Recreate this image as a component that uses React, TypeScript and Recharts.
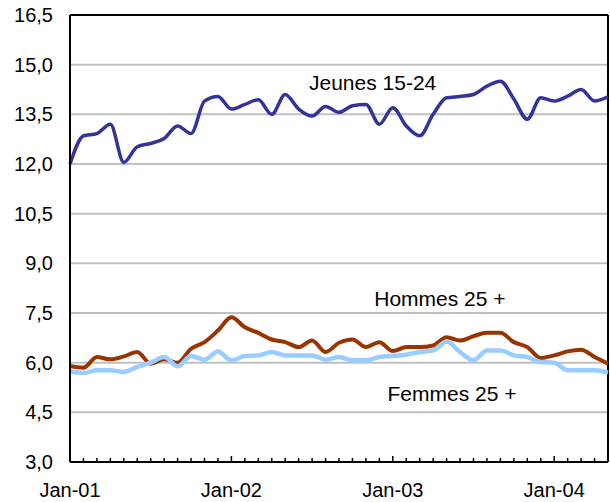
import { LineChart, Line, XAxis, YAxis, CartesianGrid, ReferenceLine, ReferenceDot } from 'recharts'

const monthNames = ['Jan', 'Feb', 'Mar', 'Apr', 'May', 'Jun', 'Jul', 'Aug', 'Sep', 'Oct', 'Nov', 'Dec']

// Jan-01 .. May-04, one point a month
const months = Array.from({ length: 41 }, (_, i) => `${monthNames[i % 12]}-0${1 + Math.floor(i / 12)}`)

const jeunes = [
  12.0, 12.85, 12.92, 13.2, 12.05, 12.52, 12.62, 12.77, 13.15, 12.92,
  13.9, 14.04, 13.66, 13.8, 13.94, 13.5, 14.1, 13.66, 13.45, 13.74,
  13.56, 13.76, 13.8, 13.2, 13.7, 13.15, 12.85, 13.5, 14.0, 14.04,
  14.1, 14.35, 14.5, 13.96, 13.35, 14.0, 13.9, 14.05, 14.25, 13.9,
  14.03,
]

const hommes = [
  5.9, 5.85, 6.17, 6.1, 6.19, 6.32, 5.97, 6.1, 6.0, 6.42,
  6.62, 6.97, 7.37, 7.07, 6.9, 6.7, 6.62, 6.47, 6.67, 6.32,
  6.6, 6.7, 6.47, 6.62, 6.35, 6.47, 6.47, 6.52, 6.77, 6.67,
  6.8, 6.9, 6.9, 6.62, 6.47, 6.14, 6.22, 6.34, 6.39, 6.17,
  5.97,
]

const femmes = [
  5.74, 5.69, 5.77, 5.77, 5.72, 5.87, 6.0, 6.17, 5.89, 6.2,
  6.09, 6.34, 6.07, 6.2, 6.22, 6.32, 6.22, 6.22, 6.22, 6.09,
  6.17, 6.07, 6.07, 6.17, 6.2, 6.24, 6.32, 6.37, 6.64, 6.32,
  6.07, 6.37, 6.37, 6.22, 6.17, 6.02, 6.0, 5.77, 5.77, 5.77,
  5.7,
]

const yTicks = [3, 4.5, 6, 7.5, 9, 10.5, 12, 13.5, 15, 16.5]

const data = months.map((m, i) => ({
  idx: i,
  month: m,
  jeunes: jeunes[i],
  hommes: hommes[i],
  femmes: femmes[i],
}))

const xTicks = months.slice(0, 40).map((_, i) => i)

const font = '"Liberation Sans", Arial, sans-serif'

function MonthTick({ x, y, payload }: any) {
  const label = months[payload.value]
  const isJan = label.startsWith('Jan')
  return (
    <g>
      <line x1={x} x2={x} y1={y} y2={y - (isJan ? 6 : 4)} stroke="#000" strokeWidth={1.5} />
      {isJan && (
        <text x={x} y={y + 35} textAnchor="middle" fontSize={20} fill="#000" fontFamily={font}>
          {label}
        </text>
      )}
    </g>
  )
}

const fmt = (v: number) => v.toFixed(1).replace('.', ',')

const labelStyle = { position: 'center' as const, fontSize: 21, fill: '#000', fontFamily: font }

export default function App() {
  return (
    <div style={{ position: 'absolute', left: 0, top: 0, fontFamily: font, background: '#fff' }}>
      <LineChart width={610} height={502} data={data} margin={{ top: 15, right: 2, bottom: 0, left: 0 }}>
        <CartesianGrid vertical={false} stroke="#c0c0c0" strokeWidth={2} />
        <XAxis
          type="number"
          dataKey="idx"
          domain={[0, 40]}
          ticks={xTicks}
          interval={0}
          tickLine={false}
          tickSize={0}
          tickMargin={0}
          tick={<MonthTick />}
          axisLine={{ stroke: '#000', strokeWidth: 2 }}
          height={40}
        />
        <YAxis
          domain={[3, 16.5]}
          ticks={yTicks}
          interval={0}
          tickFormatter={fmt}
          tickLine={false}
          tickSize={0}
          tickMargin={17}
          tick={{ fill: '#000', fontSize: 20, fontFamily: font }}
          axisLine={{ stroke: '#000', strokeWidth: 2 }}
          width={70}
        />
        <ReferenceLine y={16.5} stroke="#000" strokeWidth={2} />
        <ReferenceLine x={40} stroke="#000" strokeWidth={2} />
        <Line type="monotone" dataKey="jeunes" stroke="#333399" strokeWidth={3.5} dot={false} isAnimationActive={false} />
        <Line type="monotone" dataKey="hommes" stroke="#993300" strokeWidth={4} dot={false} isAnimationActive={false} />
        <Line type="monotone" dataKey="femmes" stroke="#99ccff" strokeWidth={4.5} dot={false} isAnimationActive={false} />
        <ReferenceDot x={22.5} y={14.46} r={1} fill="none" stroke="none" label={{ value: 'Jeunes 15-24', ...labelStyle }} />
        <ReferenceDot x={27.5} y={7.95} r={1} fill="none" stroke="none" label={{ value: 'Hommes 25 +', ...labelStyle }} />
        <ReferenceDot x={28.4} y={5.08} r={1} fill="none" stroke="none" label={{ value: 'Femmes 25 +', ...labelStyle }} />
      </LineChart>
    </div>
  )
}
